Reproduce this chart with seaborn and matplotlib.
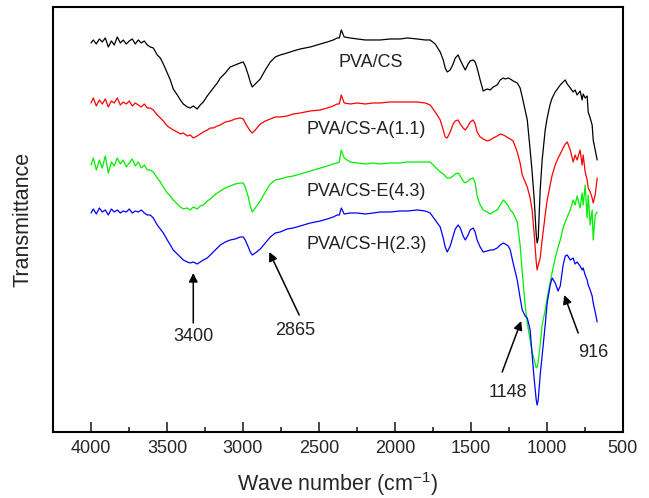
import numpy as np
import pandas as pd
import seaborn as sns
import matplotlib
matplotlib.use("Agg")
import matplotlib.pyplot as plt
from matplotlib.ticker import MultipleLocator

# wave numbers (cm-1), shared by all four spectra
wavenumber = [
    4000, 3985, 3965, 3945, 3926, 3906, 3886, 3866, 3847, 3827,
    3807, 3788, 3768, 3748, 3728, 3709, 3689, 3669, 3649, 3630,
    3610, 3590, 3564, 3544, 3524, 3498, 3478, 3459, 3432, 3412,
    3393, 3366, 3347, 3327, 3301, 3281, 3261, 3235, 3215, 3195,
    3169, 3149, 3116, 3084, 3051, 3018, 2998, 2985, 2965, 2952,
    2939, 2919, 2886, 2853, 2820, 2787, 2755, 2709, 2669, 2623,
    2557, 2491, 2445, 2406, 2380, 2366, 2353, 2334, 2294, 2248,
    2195, 2143, 2097, 2031, 1965, 1919, 1853, 1801, 1768, 1735,
    1702, 1682, 1669, 1656, 1636, 1617, 1603, 1584, 1570, 1551,
    1537, 1518, 1505, 1485, 1472, 1459, 1439, 1419, 1393, 1373,
    1353, 1327, 1307, 1287, 1274, 1254, 1241, 1222, 1195, 1176,
    1162, 1143, 1129, 1110, 1097, 1083, 1070, 1064, 1057, 1044,
    1031, 1011, 998, 978, 965, 945, 926, 912, 893, 879,
    866, 846, 827, 814, 801, 781, 768, 761, 748, 735,
    728, 715, 702, 695, 682, 669,
]

# transmittance, arbitrary units, curves already offset as in the figure
pva_cs = [
    389, 392, 388, 393, 390, 394, 385, 391, 387, 395,
    389, 392, 388, 391, 393, 388, 392, 389, 391, 387,
    385, 384, 377, 374, 368, 359, 352, 343, 337, 332,
    328, 325, 324, 326, 323, 327, 330, 336, 340, 344,
    349, 354, 359, 365, 367, 369, 370, 366, 357, 350,
    345, 348, 353, 362, 370, 375, 377, 379, 381, 383,
    385, 388, 390, 392, 394, 394, 402, 395, 394, 393,
    392, 392, 392, 393, 393, 394, 393, 392, 392, 388,
    380, 372, 364, 360, 362, 368, 374, 377, 372, 366,
    362, 368, 371, 372, 370, 364, 352, 341, 343, 342,
    345, 347, 352, 354, 353, 354, 353, 351, 349, 344,
    335, 322, 312, 282, 260, 232, 197, 189, 194, 242,
    272, 302, 314, 328, 334, 340, 344, 347, 350, 352,
    348, 344, 340, 342, 337, 341, 332, 338, 334, 336,
    320, 314, 307, 292, 282, 272,
]
pva_cs_a = [
    329, 334, 326, 332, 328, 333, 325, 331, 329, 334,
    327, 330, 328, 331, 326, 329, 327, 325, 328, 324,
    324, 322, 317, 314, 311, 306, 304, 302, 300, 298,
    299, 296, 297, 294, 296, 298, 300, 302, 304, 304,
    306, 307, 310, 311, 313, 314, 313, 309, 304, 301,
    299, 302, 308, 311, 313, 315, 315, 316, 318, 319,
    321, 322, 324, 326, 328, 328, 337, 329, 328, 329,
    328, 329, 329, 330, 330, 330, 330, 329, 327, 320,
    312, 302, 295, 294, 300, 308, 311, 312, 308, 304,
    302, 306, 310, 312, 308, 300, 295, 293, 291, 292,
    294, 296, 298, 297, 296, 294, 293, 291, 280, 269,
    257, 250, 245, 234, 222, 197, 170, 162, 167, 174,
    192, 217, 232, 247, 257, 267, 274, 278, 284, 288,
    290, 282, 270, 277, 272, 282, 267, 277, 260, 252,
    244, 240, 234, 229, 237, 254,
]
pva_cs_e = [
    267, 274, 262, 272, 264, 276, 259, 270, 266, 274,
    268, 272, 265, 269, 273, 266, 270, 264, 267, 262,
    262, 260, 254, 250, 245, 239, 236, 232, 228, 225,
    223, 224, 222, 225, 223, 226, 227, 231, 233, 236,
    239, 241, 244, 246, 248, 249, 249, 245, 235, 226,
    220, 224, 231, 240, 248, 252, 253, 255, 256, 258,
    261, 264, 266, 268, 269, 270, 282, 274, 270, 269,
    268, 269, 268, 269, 269, 270, 270, 270, 270, 265,
    260, 258, 256, 254, 254, 256, 258, 259, 256, 251,
    249, 251, 253, 254, 249, 236, 227, 222, 220, 218,
    220, 222, 227, 232, 230, 226, 222, 219, 210, 187,
    160, 127, 109, 92, 80, 72, 64, 65, 70, 87,
    107, 122, 134, 150, 160, 174, 185, 192, 204, 210,
    215, 222, 232, 227, 236, 224, 239, 227, 247, 214,
    237, 207, 222, 192, 217, 220,
]
pva_cs_h = [
    219, 223, 218, 224, 220, 222, 217, 223, 220, 222,
    219, 221, 220, 223, 219, 221, 220, 222, 219, 217,
    217, 214, 207, 203, 199, 192, 187, 182, 178, 175,
    172, 170, 169, 170, 168, 170, 172, 174, 177, 180,
    184, 187, 190, 192, 193, 195, 195, 192, 185, 180,
    177, 179, 183, 189, 195, 199, 200, 203, 204, 206,
    209, 211, 213, 215, 217, 217, 224, 218, 219, 219,
    218, 219, 220, 220, 221, 221, 222, 221, 219, 212,
    205, 194, 185, 180, 186, 196, 203, 207, 204, 196,
    192, 197, 202, 204, 200, 192, 185, 180, 181, 182,
    182, 184, 187, 189, 188, 186, 182, 169, 152, 134,
    122, 116, 114, 102, 77, 52, 32, 27, 32, 57,
    77, 107, 129, 147, 154, 149, 141, 146, 167, 176,
    177, 172, 174, 168, 170, 166, 162, 164, 157, 152,
    147, 142, 136, 129, 120, 110,
]

samples = ["PVA/CS", "PVA/CS-A(1.1)", "PVA/CS-E(4.3)", "PVA/CS-H(2.3)"]
colors = ["#000000", "#ff0000", "#00ee00", "#0000ff"]
label_pos = [(2162, 369), (2189, 302), (2189, 240), (2189, 187)]

# peak annotations: text, arrow head (wn, T), arrow tail, text position
peaks = ["3400", "2865", "1148", "916"]
peak_head = [(3327, 159), (2827, 180), (1169, 111), (886, 137)]
peak_tail = [(3327, 109), (2630, 117), (1294, 60), (794, 99)]
peak_text = [(3327, 96), (2656, 102), (1255, 40), (695, 80)]

df = pd.concat([
    pd.DataFrame({"wavenumber": wavenumber, "T": vals, "sample": name})
    for name, vals in zip(samples, [pva_cs, pva_cs_a, pva_cs_e, pva_cs_h])
])

sns.set_style("white")
plt.rcParams["font.family"] = ["Liberation Sans", "DejaVu Sans"]
plt.rcParams["mathtext.default"] = "regular"

fig = plt.figure(figsize=(6.49, 4.98), dpi=100)
ax = fig.add_axes([0.0817, 0.1325, 0.878, 0.8535])

sns.lineplot(data=df, x="wavenumber", y="T", hue="sample", hue_order=samples,
             palette=colors, estimator=None, sort=False, legend=False,
             linewidth=0.9, ax=ax)

ax.set_xlim(4250, 500)
ax.set_ylim(0, 425)
ax.xaxis.set_major_locator(MultipleLocator(500))
ax.xaxis.set_minor_locator(MultipleLocator(250))
ax.set_yticks([])
ax.tick_params(axis="x", which="major", direction="in", length=7, width=1.2,
               labelsize=13, pad=6, bottom=True)
ax.tick_params(axis="x", which="minor", direction="in", length=3.5, width=1.2,
               bottom=True)
for s in ax.spines.values():
    s.set_linewidth(1.5)
    s.set_color("black")

ax.set_xlabel("Wave number (cm$^{-1}$)", fontsize=15.5, labelpad=9)
ax.set_ylabel("Transmittance", fontsize=15.5, labelpad=14)

for name, (x, y) in zip(samples, label_pos):
    ax.text(x, y, name, fontsize=13, ha="center", va="center", color="#222222")

for txt, head, tail, tp in zip(peaks, peak_head, peak_tail, peak_text):
    ax.annotate("", xy=head, xytext=tail,
                arrowprops=dict(arrowstyle="-|>", color="black", lw=1.1,
                                mutation_scale=13, shrinkA=0, shrinkB=0))
    ax.text(tp[0], tp[1], txt, fontsize=13, ha="center", va="center",
            color="#222222")

fig.savefig("out.png", dpi=100)
